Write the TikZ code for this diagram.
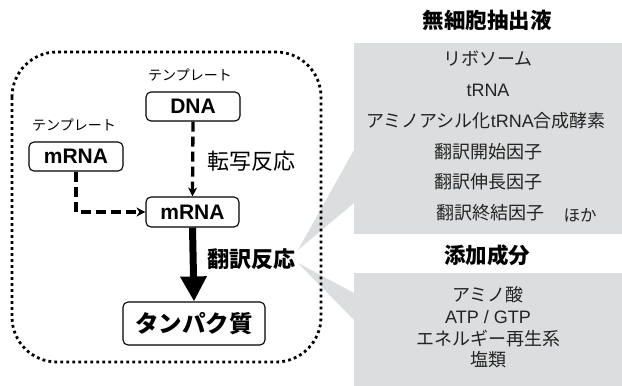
\documentclass[tikz,border=0pt]{standalone}
\usepackage{fontspec}
\setmainfont{Liberation Sans}
\newfontfamily\jp{Noto Sans CJK JP}
\usetikzlibrary{arrows.meta}
\definecolor{callgrey}{RGB}{220,221,222}
\definecolor{txtgrey}{RGB}{35,35,35}
\begin{document}
\begin{tikzpicture}[x=1pt,y=-1pt,
  box/.style={draw, line width=1.1pt, rounded corners=5pt, inner sep=0pt, font=\bfseries\fontsize{21}{21}\selectfont},
  tmpl/.style={font=\jp\fontsize{14}{14}\selectfont},
  react/.style={font=\jp\fontsize{22}{22}\selectfont, anchor=west, inner sep=0pt},
  title/.style={font=\jp\bfseries\fontsize{21.5}{21.5}\selectfont},
  item/.style={font=\fontsize{18}{18}\selectfont, text=txtgrey, inner sep=0pt},
  greybox/.style={fill=callgrey, inner sep=0pt, anchor=north west},
  dasharrow/.style={line width=3.3pt, dash pattern=on 10pt off 5pt, -{Stealth[length=9pt,width=9pt]}},
  thickarrow/.style={line width=7pt, -{Triangle[length=25pt,width=25pt]}},
  dotbox/.style={line width=2.8pt, dash pattern=on 2.8pt off 3.2pt, rounded corners=45pt}
]
\useasboundingbox (0,0) rectangle (622,386);
% grey boxes and callouts
\node[greybox, minimum width=268pt, minimum height=191pt] (cfe) at (354,43) {};
\node[greybox, minimum width=268pt, minimum height=113pt] (add) at (354,273) {};
\coordinate (tip1) at (298,250);
\coordinate (tip2) at (298,263);
\fill[callgrey] (tip1) -- (354,150) -- (354,203) -- cycle;
\fill[callgrey] (tip2) -- (354,293) -- (354,320) -- cycle;
% dotted frame
\draw[dotbox] (12,52) rectangle (321,362);
% boxes
\node[box, minimum width=94pt, minimum height=29pt] (dna) at (193,106.5) {DNA};
\node[box, minimum width=94pt, minimum height=29pt] (lm) at (76,156.5) {mRNA};
\node[box, minimum width=93pt, minimum height=30pt] (mid) at (192.5,212) {mRNA};
\node[box, minimum width=142pt, minimum height=43pt, font=\jp\bfseries\fontsize{23.5}{23.5}\selectfont] (prot) at (194,323.5) {タンパク質};
\node[tmpl] (t1) at (190,75) {テンプレート};
\node[tmpl] (t2) at (74,125) {テンプレート};
% arrows
\draw[dasharrow] (dna.south) -- (mid.north);
\draw[dasharrow] (lm.south) |- (mid.west);
\draw[thickarrow] (mid.south) -- (prot.north);
\node[react] (tx) at (207,161) {転写反応};
\node[react, font=\jp\bfseries\fontsize{22}{22}\selectfont] (tl) at (207,259) {翻訳反応};
% titles
\node[title] (h1) at (487,20) {無細胞抽出液};
\node[title] (h2) at (487,255) {添加成分};
% box 1 items
\node[item] (i1) at (488,59) {\jp リボソーム};
\node[item] (i2) at (488,90) {tRNA};
\node[item] (i3) at (486,121) {{\jp アミノアシル化}tRNA{\jp 合成酵素}};
\node[item] (i4) at (488,152) {\jp 翻訳開始因子};
\node[item] (i5) at (488,182) {\jp 翻訳伸長因子};
\node[item] (i6) at (490,213) {\jp 翻訳終結因子};
\node[item, font=\fontsize{16.5}{16.5}\selectfont] (i7) at (580,215) {\jp ほか};
% box 2 items
\node[item] (j1) at (488,295) {\jp アミノ酸};
\node[item] (j2) at (488,317) {ATP / GTP};
\node[item] (j3) at (488,339) {\jp エネルギー再生系};
\node[item] (j4) at (488,360) {\jp 塩類};
\end{tikzpicture}
\end{document}
